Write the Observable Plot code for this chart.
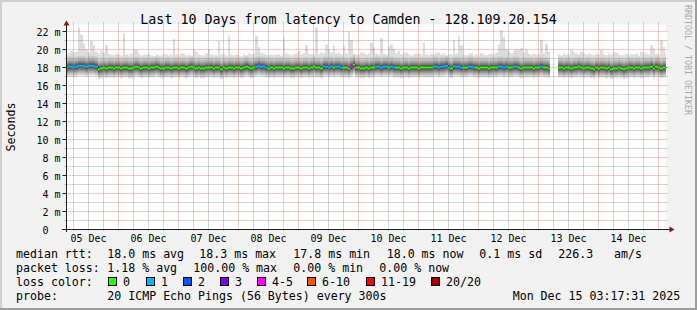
<!DOCTYPE html>
<html><head><meta charset="utf-8">
<script src="https://cdn.jsdelivr.net/npm/d3@7"></script>
<script src="https://cdn.jsdelivr.net/npm/@observablehq/plot@0.6"></script>
<style>
html,body{margin:0;padding:0;background:#f2f2f2;}
#wrap{position:relative;width:697px;height:310px;background:#f2f2f2;overflow:hidden;}
#wrap svg{position:absolute;left:0;top:0;}
</style></head><body><div id="wrap"></div>
<script>
// ---------- DATA ----------
const titleText = "Last 10 Days from latency to Camden - 128.109.20.154";
const yAxisTitle = "Seconds";
const dayLabels = ["05 Dec","06 Dec","07 Dec","08 Dec","09 Dec","10 Dec","11 Dec","12 Dec","13 Dec","14 Dec"];
const yTicks = [0,2,4,6,8,10,12,14,16,18,20,22];
const yTickLabels = ["0\u00a0\u00a0","2 m","4 m","6 m","8 m","10 m","12 m","14 m","16 m","18 m","20 m","22 m"];

// hourly steps starting Dec 5 03:00, median rtt (ms)
const median = [
18.0,18.1,18.1,18.0,18.1,18.2,18.2,18.2,18.1,18.2,18.2,18.2,18.1,17.8,17.9,18.0,17.9,18.0,18.0,17.9,18.0,18.0,17.9,18.0,
18.0,17.9,17.9,18.0,18.1,18.0,17.9,18.0,18.0,17.9,18.0,18.0,18.1,18.0,17.9,17.9,18.0,18.0,17.9,18.0,18.0,17.9,18.0,18.0,
17.9,18.0,18.1,18.0,17.9,18.0,17.9,17.9,18.0,18.0,18.0,17.9,18.0,18.0,17.8,18.0,17.9,18.0,18.0,17.9,18.0,18.0,17.9,18.0,
18.1,18.0,17.9,18.0,18.1,18.2,18.1,18.1,18.0,17.9,18.0,17.9,18.0,18.0,18.0,17.9,18.0,18.0,17.9,17.9,18.0,18.0,17.9,18.0,
18.0,17.9,18.0,18.1,18.0,18.0,17.9,18.1,18.1,18.0,18.1,18.0,18.1,18.1,18.0,18.0,18.0,17.9,18.1,18.3,18.0,18.0,17.9,17.9,
18.0,17.9,18.0,18.0,18.1,18.1,18.0,18.1,18.1,18.0,18.1,18.0,18.0,18.0,17.9,18.0,18.0,17.9,18.0,18.0,18.0,17.9,18.0,18.0,
18.0,18.0,18.0,18.1,18.1,18.0,18.1,18.1,18.2,18.0,17.9,18.1,18.1,18.1,18.0,18.0,18.0,18.1,18.1,18.0,18.0,17.9,18.0,18.0,
18.0,17.9,18.0,18.0,18.0,18.1,18.1,18.0,18.1,18.0,18.0,18.1,18.1,18.0,17.9,18.0,18.0,18.0,18.0,17.9,18.0,18.0,18.1,18.0,
18.0,17.9,null,null,null,18.0,18.0,17.9,18.0,18.0,17.9,18.0,18.0,18.1,18.0,17.9,18.0,18.0,17.9,17.8,18.0,17.9,18.0,18.0,
17.9,18.0,17.8,17.9,17.9,18.0,17.9,17.8,17.9,18.0,18.0,17.9,18.0,18.0,17.9,18.0,18.0,18.0,18.1,17.9,18.1,18.0,17.9,18.0,
18.0];

// max ping per step (ms)
const maxPing = [
19.4,19.6,19.8,19.6,19.7,22.4,21.6,20.6,20.0,19.6,20.9,20.4,19.7,19.5,19.8,19.6,20.4,19.5,19.4,19.3,19.5,19.4,19.3,21.7,
19.4,19.3,19.5,19.9,19.9,19.5,19.3,19.4,19.4,19.5,19.3,19.2,19.4,19.3,19.3,19.5,19.4,19.3,19.4,21.1,19.4,19.3,19.5,19.5,
19.3,19.4,19.3,20.0,19.7,19.4,19.3,19.3,19.5,20.0,19.4,19.3,19.3,20.9,19.4,19.5,19.3,21.4,19.4,19.3,19.4,19.3,19.2,19.4,
19.3,19.5,19.4,19.5,21.5,20.2,19.6,19.5,19.4,19.3,19.4,19.3,19.4,19.4,19.3,21.2,19.5,19.4,19.3,19.4,19.5,19.8,19.4,19.5,
20.4,19.5,19.4,19.4,22.4,19.4,19.6,19.5,20.5,20.0,19.6,20.4,19.5,19.6,19.4,20.3,19.5,22.0,21.0,19.5,19.4,19.4,19.6,19.6,
19.4,19.5,20.7,20.2,19.5,19.4,21.2,19.5,19.4,20.3,20.5,20.0,19.5,19.8,19.4,19.6,19.6,19.4,19.3,19.4,19.5,19.5,19.4,20.7,
19.4,19.3,19.5,19.4,19.6,19.6,19.4,19.5,19.3,19.4,19.4,21.0,19.5,21.4,20.4,19.4,19.3,19.4,19.5,19.3,19.4,19.3,19.5,19.4,
19.3,19.4,19.5,19.4,19.6,20.5,22.1,21.3,20.0,19.8,19.5,19.8,20.0,19.9,20.1,19.6,19.9,19.5,19.4,19.5,19.4,19.5,21.0,19.5,
20.6,19.7,null,null,null,19.4,19.3,19.5,19.4,19.4,19.9,19.7,19.5,19.4,19.7,19.6,19.4,19.5,19.4,19.3,19.5,19.4,19.9,19.4,
19.3,19.5,19.4,19.7,19.6,19.4,19.3,19.4,19.5,19.3,19.4,19.4,19.5,19.3,19.7,19.6,19.5,19.4,20.4,20.1,19.5,19.4,21.0,20.2,
19.5];

// lost pings (of 20) per step
const lostPings = [
1,1,1,1,1,1,1,1,1,1,1,1,1,0,0,0,0,0,0,0,0,0,0,0,
0,0,0,0,0,0,0,0,0,0,0,0,0,0,0,0,0,0,0,0,0,0,0,0,
0,0,0,0,0,0,0,0,0,0,0,0,0,0,0,0,0,0,0,0,0,0,0,0,
0,0,0,0,1,1,1,1,1,0,0,0,0,0,0,0,0,0,0,0,0,0,0,0,
0,0,0,0,0,0,0,1,1,1,1,0,1,1,1,0,0,0,4,0,0,0,0,0,
0,0,0,0,1,1,1,1,1,0,1,1,0,0,0,0,0,0,0,0,0,0,0,0,
0,0,0,1,1,1,1,1,1,1,0,1,1,1,1,0,0,1,1,1,0,0,0,0,
0,0,0,0,0,1,1,1,1,0,0,1,1,0,0,0,0,0,0,0,0,0,1,0,
0,0,20,20,20,0,0,0,0,0,0,0,0,0,0,0,0,0,0,0,0,0,0,0,
0,0,0,0,0,0,0,0,0,0,0,0,0,0,0,0,0,0,0,0,0,0,0,0,
0];

// typical ping spread around the median (ms): p19..p11 above, p1..p10 below
const spreadUp = [1.05,0.82,0.64,0.5,0.38,0.27,0.18,0.1,0.04];
const spreadDown = [1.15,0.98,0.84,0.72,0.61,0.5,0.4,0.3,0.2,0.1];

const lossLabels = ["0","1","2","3","4-5","6-10","11-19","20/20"];
const lossColors = ["#26ff00","#00b8ff","#0059ff","#7e00ff","#ff00ff","#ff5500","#ff0000","#a10000"];
const rttStats = ["18.0 ms avg","18.3 ms max","17.8 ms min","18.0 ms now","0.1 ms sd","226.3","am/s"];
const lossStats = ["1.18 % avg","100.00 % max","0.00 % min","0.00 % now"];
const probeText = "20 ICMP Echo Pings (56 Bytes) every 300s";
const stampText = "Mon Dec 15 03:17:31 2025";

// ---------- BUILD ----------
const HOUR = 3600000;
const t0 = Date.UTC(2025,11,5,3,17,31);
const t1 = Date.UTC(2025,11,15,3,17,31);
const s0 = Date.UTC(2025,11,5,3,0,0);
const shades = ["#dddddd","#cacaca","#b7b7b7","#a4a4a4","#919191","#7e7e7e","#6b6b6b","#585858","#454545","#323232"];
function lossColor(n){
  if (n<=0) return lossColors[0];
  if (n===1) return lossColors[1];
  if (n===2) return lossColors[2];
  if (n===3) return lossColors[3];
  if (n<=5) return lossColors[4];
  if (n<=10) return lossColors[5];
  if (n<=19) return lossColors[6];
  return lossColors[7];
}
const steps = median.map((m,i)=>({
  i, med:m, max:maxPing[i], loss:lostPings[i],
  x1:new Date(Math.max(s0+i*HOUR,t0)), x2:new Date(Math.min(s0+(i+1)*HOUR,t1)),
  t:new Date(Math.max(s0+i*HOUR,t0))
}));
const valid = steps.filter(d=>d.med!=null);
const smoke = [];
for (let k=0;k<10;k++){
  for (const d of valid){
    smoke.push({x1:d.x1,x2:d.x2,y1:d.med-spreadDown[k],y2:k===0?d.max:d.med+spreadUp[k-1],fill:shades[k]});
  }
}
const lineData = steps.map(d=>({t:d.t,med:d.med}));
lineData.push({t:new Date(t1),med:median[median.length-1]});

const majorX=[], minorX=[];
for (let t=Date.UTC(2025,11,5,6); t<t1; t+=6*HOUR){
  if (t<t0) continue;
  (new Date(t).getUTCHours()===0 ? majorX : minorX).push(new Date(t));
}
const minorY=[1,3,5,7,9,11,13,15,17,19,21];
const majorY=yTicks.filter(v=>v>0);
const GRID="rgba(143,143,143,0.75)", MGRID="rgba(222,79,79,0.6)", AXIS="#1f1f1f", ARROW="#801f1f";
const FONT="'DejaVu Sans Mono', monospace";
const dash={strokeDasharray:"1,1",strokeDashoffset:0.5};

const chart = Plot.plot({
  width:697, height:245,
  marginLeft:66, marginRight:31, marginTop:24, marginBottom:16,
  style:{background:"transparent", fontFamily:FONT, fontSize:"10px", color:"#000", overflow:"visible"},
  x:{type:"utc", domain:[new Date(t0),new Date(t1)], axis:null, round:true},
  y:{domain:[0,22.78], axis:null},
  color:{type:"identity"},
  marks:[
    Plot.frame({fill:"#ffffff", stroke:"none"}),
    Plot.rect(smoke,{x1:"x1",x2:"x2",y1:"y1",y2:"y2",fill:"fill"}),
    Plot.ruleY(minorY,{stroke:GRID,...dash,insetLeft:-2,insetRight:-2}),
    Plot.ruleY(majorY,{stroke:MGRID,...dash,insetLeft:-2,insetRight:-2}),
    Plot.ruleX(minorX,{stroke:GRID,...dash,insetTop:-2,insetBottom:-2}),
    Plot.ruleX(majorX,{stroke:MGRID,...dash,insetTop:-2,insetBottom:-2}),
    Plot.line(lineData,{x:"t",y:"med",curve:"step-after",stroke:"#202020",strokeWidth:1}),
    Plot.ruleY(valid,{x1:"x1",x2:"x2",y:"med",stroke:d=>lossColor(d.loss),strokeWidth:2}),
    Plot.ruleY([0],{stroke:AXIS,insetLeft:-4,insetRight:-4}),
    Plot.ruleX([new Date(t0)],{stroke:AXIS,insetTop:-2,insetBottom:-3}),
    Plot.text(dayLabels,{x:(d,i)=>new Date(Date.UTC(2025,11,5+i,12)),text:d=>d,frameAnchor:"bottom",dy:9,lineAnchor:"middle",fontSize:10,fontFamily:FONT,fill:"#000"}),
    Plot.text(yTicks,{y:d=>d,text:(d,i)=>yTickLabels[i],frameAnchor:"left",textAnchor:"end",dx:-6,dy:1,lineAnchor:"middle",fontSize:10,fontFamily:FONT,fill:"#000"})
  ]
});
document.getElementById("wrap").appendChild(chart);

// ---------- OVERLAY (frame, titles, legend) ----------
const sx = chart.scale("x"), sy = chart.scale("y");
const ov = d3.select("#wrap").append("svg").attr("width",697).attr("height",310)
  .style("font-family",FONT).style("pointer-events","none");
ov.append("rect").attr("x",0).attr("y",0).attr("width",697).attr("height",2).attr("fill","#cfcfcf");
ov.append("rect").attr("x",0).attr("y",0).attr("width",2).attr("height",310).attr("fill","#cfcfcf");
ov.append("rect").attr("x",0).attr("y",308).attr("width",697).attr("height",2).attr("fill","#9e9e9e");
ov.append("rect").attr("x",695).attr("y",0).attr("width",2).attr("height",310).attr("fill","#9e9e9e");

// axis ticks and arrows
const ax0 = sx.apply(new Date(t0))+0.5, ax1 = sx.apply(new Date(t1))+0.5, ay0 = sy.apply(0)+0.5, ayTop = sy.apply(22.78)+0.5;
yTicks.forEach(v=>{
  const y = Math.round(sy.apply(v))+0.5;
  ov.append("line").attr("x1",ax0-4).attr("x2",ax0).attr("y1",y).attr("y2",y).attr("stroke",AXIS);
});
ov.append("path").attr("d",`M${ax1+8},${ay0}L${ax1+3},${ay0-3}L${ax1+3},${ay0+3}Z`).attr("fill",ARROW);
ov.append("path").attr("d",`M${ax0},${ayTop-4}L${ax0-3},${ayTop+1}L${ax0+3},${ayTop+1}Z`).attr("fill",ARROW);

ov.append("text").attr("x",348.5).attr("y",24).attr("text-anchor","middle").attr("font-size","13.3px").attr("fill","#000").text(titleText);
ov.append("text").attr("transform","translate(15,127) rotate(-90)").attr("text-anchor","middle").attr("font-size","11.6px").attr("fill","#000").text(yAxisTitle);
ov.append("text").attr("transform","translate(684.5,5) rotate(90)").attr("text-anchor","start").attr("font-size","8.3px").attr("fill","#a8a8a8").text("RRDTOOL / TOBI OETIKER");

const LF = "11.6px";
function lt(x,y,s){ ov.append("text").attr("x",x).attr("y",y).attr("font-size",LF).attr("fill","#000").text(s); }
const rowY=[258.3,272.2,286.1,300];
lt(16,rowY[0],"median rtt:");
[107.3,199.3,293.3,386.7,479.3,558.3,614].forEach((x,i)=>lt(x,rowY[0],rttStats[i]));
lt(16,rowY[1],"packet loss:");
[107.3,193.3,293.3,379.3].forEach((x,i)=>lt(x,rowY[1],lossStats[i]));
lt(16,rowY[2],"loss color:");
[123,161,198,235,272,322,381,446].forEach((x,i)=>{
  ov.append("rect").attr("x",x-14.5).attr("y",277.5).attr("width",8).attr("height",8).attr("fill",lossColors[i]).attr("stroke","#000").attr("stroke-width",1);
  lt(x,rowY[2],lossLabels[i]);
});
lt(16,rowY[3],"probe:");
lt(107.3,rowY[3],probeText);
lt(512.7,rowY[3],stampText);
</script></body></html>
